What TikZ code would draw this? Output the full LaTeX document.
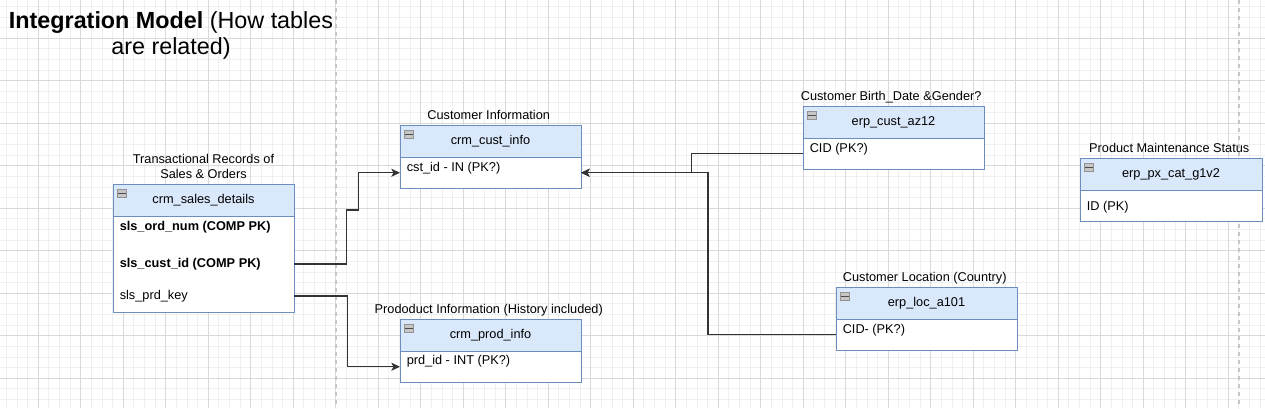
\documentclass[tikz,border=0pt]{standalone}
\usepackage{fontspec}
\setmainfont{Liberation Sans}
\usetikzlibrary{positioning,arrows.meta}
\definecolor{hdrfill}{HTML}{DAE8FC}
\definecolor{hdrline}{HTML}{6C8EBF}
\definecolor{gridminor}{HTML}{EFEFEF}
\definecolor{gridmajor}{HTML}{D9D9D9}
\definecolor{linkcol}{HTML}{333333}

\begin{document}
\begin{tikzpicture}[x = 0.75pt, y = -0.75pt,
    every node/.style = { font = \fontsize{9.56}{11.5}\selectfont, inner sep = 0pt },
    tablehead/.style = { draw = hdrline, fill = hdrfill, line width = 0.75pt, outer sep = 0pt,
      minimum width = 135.75pt, minimum height = 24pt, anchor = north west },
    tablebody/.style = { draw = hdrline, fill = white, line width = 0.75pt, outer sep = 0pt,
      minimum width = 135.75pt, minimum height = 23.6pt },
    tabletitle/.style = { align = center, text depth = 0pt },
    minusicon/.style = { draw = gray!85, fill = gray!45, line width = 0.5pt,
      minimum width = 6.75pt, minimum height = 6pt,
      path picture = { \draw [black!70, line width = 0.7pt] (path picture bounding box.west) -- (path picture bounding box.east); } },
    rowtext/.style = { anchor = west },
    link/.style = { draw = linkcol, line width = 0.8pt, -{Stealth[length = 6.5pt, width = 6pt, inset = 1.6pt]} },
    pagebreak/.style = { draw = gray!45, line width = 1.1pt, dash pattern = on 3pt off 3pt }
  ]
  \useasboundingbox (0,0) rectangle (1265,408);

  % background grid
  \foreach \k in {-3,...,115}
    \draw [gridminor, line width = 0.75pt] ({38.3+10.625*\k},0) -- ({38.3+10.625*\k},408);
  \foreach \k in {-3,...,34}
    \draw [gridminor, line width = 0.75pt] (0,{38.3+10.625*\k}) -- (1265,{38.3+10.625*\k});
  \foreach \k in {0,...,28}
    \draw [gridmajor, line width = 0.75pt] ({38.3+42.5*\k},0) -- ({38.3+42.5*\k},408);
  \foreach \k in {0,...,8}
    \draw [gridmajor, line width = 0.75pt] (0,{38.3+42.5*\k}) -- (1265,{38.3+42.5*\k});
  \draw [pagebreak] (336,0) -- (336,408);
  \draw [pagebreak] (1239,0) -- (1239,408);

  \node [font = \fontsize{17.5}{20}\selectfont, align = center, anchor = north] (title) at (171,11)
    { \textbf{Integration Model} (How tables \\ are related) };

  % crm tables
  \node [tablehead] (salesh) at (113,184) { crm\_sales\_details };
  \node [tablebody, minimum height = 72pt, below = 0pt of salesh] (salesb) {};
  \node [tabletitle, above = 3.8pt of salesh] (saleslbl) { Transactional Records of \\ Sales \& Orders };
  \node [rowtext] (ordnum) at ([shift={(6.5,11)}]salesb.north west) { \textbf{sls\_ord\_num (COMP PK)} };
  \node [rowtext] (custid) at ([shift={(6.5,48)}]salesb.north west) { \textbf{sls\_cust\_id (COMP PK)} };
  \node [rowtext] (prdkey) at ([shift={(6.5,80)}]salesb.north west) { sls\_prd\_key };

  \node [tablehead] (custh) at (400,125) { crm\_cust\_info };
  \node [tablebody, below = 0pt of custh] (custb) {};
  \node [tabletitle, above = 3.6pt of custh] (custlbl) { Customer Information };
  \node [rowtext] (cstid) at ([shift={(6.5,11)}]custb.north west) { cst\_id - IN (PK?) };

  \node [tablehead] (prodh) at (400,319) { crm\_prod\_info };
  \node [tablebody, below = 0pt of prodh] (prodb) {};
  \node [tabletitle, above = 3.6pt of prodh] (prodlbl) { Prododuct Information (History included) };
  \node [rowtext] (prdid) at ([shift={(6.5,10)}]prodb.north west) { prd\_id - INT (PK?) };

  % erp tables
  \node [tablehead] (az12h) at (803,106) { erp\_cust\_az12 };
  \node [tablebody, below = 0pt of az12h] (az12b) {};
  \node [tabletitle, above = 3.6pt of az12h] (az12lbl) { Customer Birth\_Date \&Gender? };
  \node [rowtext] (cidaz) at ([shift={(6.5,11)}]az12b.north west) { CID (PK?) };

  \node [tablehead] (loch) at (836,287) { erp\_loc\_a101 };
  \node [tablebody, below = 0pt of loch] (locb) {};
  \node [tabletitle, above = 3.6pt of loch] (loclbl) { Customer Location (Country) };
  \node [rowtext] (cidloc) at ([shift={(6.5,11)}]locb.north west) { CID- (PK?) };

  \node [tablehead, minimum width = 136.5pt] (pxh) at (1080,158) { erp\_px\_cat\_g1v2 };
  \node [tablebody, minimum width = 136.5pt, below = 0pt of pxh] (pxb) {};
  \node [tabletitle, above = 3.6pt of pxh] (pxlbl) { Product Maintenance Status };
  \node [rowtext] (pxid) at ([shift={(6.5,17)}]pxb.north west) { ID (PK) };

  % collapse icons
  \foreach \t in {salesh, custh, prodh, az12h, loch, pxh}
    \node [minusicon] at ([shift={(8.5,9)}]\t.north west) {};

  % relations
  \draw [link] (salesb.east |- custid) -| (346.7,210) -| ([xshift = -31.2pt]custb.west) -- (custb.west);
  \draw [link] (salesb.east |- prdkey) -| ([xshift = -39.5pt]prodb.west) -- (prodb.west);
  \draw [link] (az12b.west) -| ([xshift = 83pt]custb.east) -- (custb.east);
  \draw [link] (locb.west) -| ([xshift = 95.25pt]custb.east) -- (custb.east);

\end{tikzpicture}
\end{document}
